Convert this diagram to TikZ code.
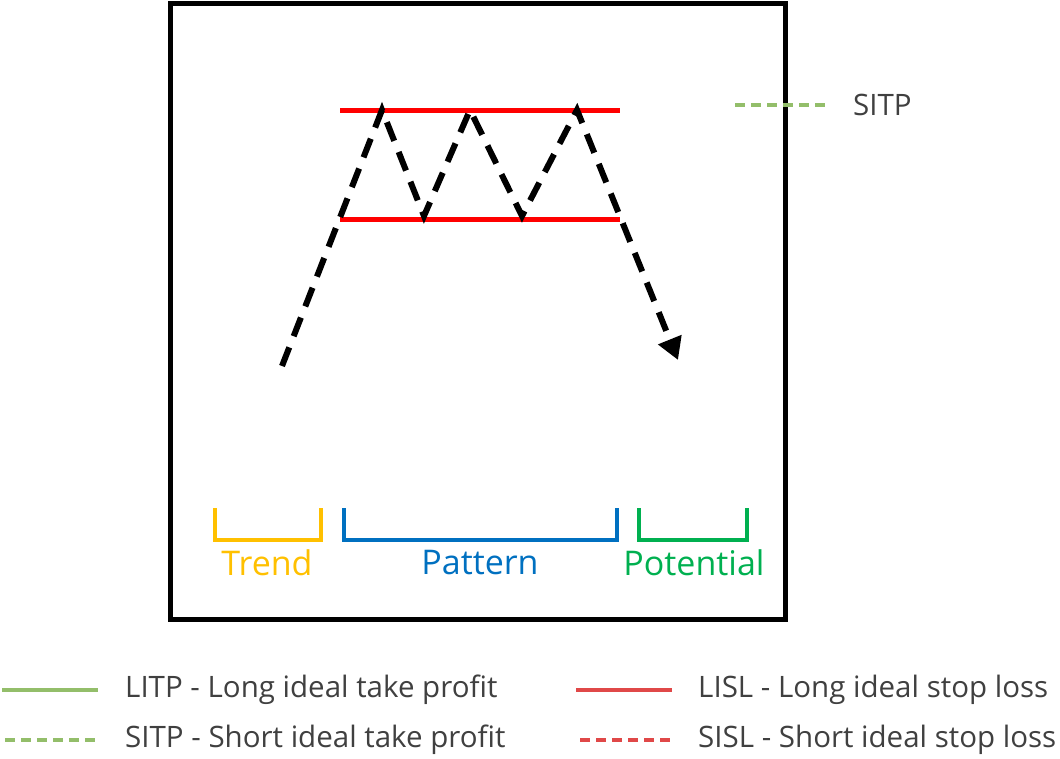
\documentclass[tikz,border=0pt]{standalone}
\usepackage{fontspec}
\setmainfont{Open Sans}
\usetikzlibrary{arrows.meta}
\definecolor{txt}{HTML}{404040}
\definecolor{lgreen}{HTML}{93BE6A}
\definecolor{lred}{HTML}{E04848}
\definecolor{trendc}{HTML}{FFC000}
\definecolor{patc}{HTML}{0070C0}
\definecolor{potc}{HTML}{00B050}
\tikzset{
	lbl/.style={anchor=west,text=txt,font=\fontsize{29.5}{34}\selectfont,inner sep=0},
	brk/.style={line width=4pt},
	brklbl/.style={font=\fontsize{34}{40}\selectfont,inner sep=0}
}
\begin{document}
\begin{tikzpicture}[x=1pt,y=-1pt]
	\useasboundingbox (0,0) rectangle (1060,758);
	
	% Frame
	\draw [line width=5pt] (170,3) rectangle (785,619);
	
	% Levels
	\coordinate (T1) at (340,110); \coordinate (T2) at (620,110);
	\coordinate (B1) at (340,219); \coordinate (B2) at (620,219);
	\draw [red,line width=5pt] (T1) -- (T2);
	\draw [red,line width=5pt] (B1) -- (B2);
	
	% Price path
	\coordinate (P0) at (282,366);
	\coordinate (P1) at (382,110);
	\coordinate (P2) at (424,216);
	\coordinate (P3) at (470,110);
	\coordinate (P4) at (522,216);
	\coordinate (P5) at (577,110);
	\coordinate (P6) at (678,360);
	\draw [line width=6pt,dash pattern=on 20pt off 12pt,-{Triangle[length=22pt,width=24pt]}]
		(P0) -- (P1) -- (P2) -- (P3) -- (P4) -- (P5) -- (P6);
	
	% Phases
	\draw [brk,trendc] (215,508) -- (215,540) -- (321,540) -- (321,508);
	\node [brklbl,text=trendc] (trend) at (267,563) {Trend};
	\draw [brk,patc] (344,508) -- (344,540) -- (617,540) -- (617,508);
	\node [brklbl,text=patc] (pattern) at (480,563) {Pattern};
	\draw [brk,potc] (639,508) -- (639,540) -- (747,540) -- (747,508);
	\node [brklbl,text=potc] (potential) at (694,563) {Potential};
	
	% Right label
	\node [lbl] (sitp) at (853,105) {SITP};
	\draw [lgreen,line width=3.5pt,dash pattern=on 10pt off 6pt] (735,105) -- (828,105);
	
	% Legend
	\node [lbl] (litpL) at (125,690) {LITP - Long ideal take profit};
	\node [lbl] (sitpL) at (125,740) {SITP - Short ideal take profit};
	\node [lbl] (islL) at (698,690) {LISL - Long ideal stop loss};
	\node [lbl] (sislL) at (698,740) {SISL - Short ideal stop loss};
	\draw [lgreen,line width=3.5pt] (2,690) -- (98,690);
	\draw [lgreen,line width=3.5pt,dash pattern=on 10pt off 6pt] (5,740) -- (98,740);
	\draw [lred,line width=3.5pt] (576,690) -- (672,690);
	\draw [lred,line width=3.5pt,dash pattern=on 10pt off 6pt] (580,740) -- (672,740);
\end{tikzpicture}
\end{document}
